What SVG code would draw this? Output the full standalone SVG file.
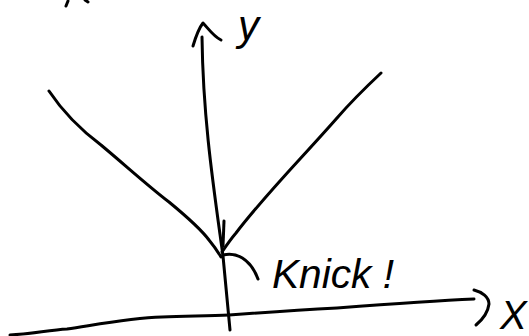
<svg xmlns="http://www.w3.org/2000/svg" width="529" height="336" viewBox="0 0 529 336">
<style>
.ink{fill:none;stroke:#000;stroke-width:3;stroke-linecap:round;stroke-linejoin:round}
.lbl{font-family:"Liberation Sans",Arial,sans-serif;font-style:italic;fill:#000}
</style>
<rect width="529" height="336" fill="#fff"/>
<g id="marks">
<path class="ink" d="M66,6 L68,1 M85,0 L88,2"/>
</g>
<g id="axes">
<path id="y-axis" class="ink" d="M202,37 C203,120 214,190 223,256 L230,330"/>
<path id="y-arrow" class="ink" d="M193,46 C196,36 199,28 203,23 C208,28 213,36 221,40"/>
<path id="x-axis" class="ink" d="M10,335 C30,334 50,330 67,329 C100,324 130,318 162,317 C190,316 210,316 229,315 C270,312 300,310 337,308 C390,304 430,301 474,299"/>
<path id="x-arrow" class="ink" d="M474,290 C482,292 489,297 489,304 C488,312 482,320 476,325"/>
</g>
<g id="curve">
<path id="left-branch" class="ink" d="M49,91 C65,115 85,133 101,145 C125,165 148,186 169,202 C186,216 200,228 209,240 C214,246 218,252 221,257"/>
<path id="right-branch" class="ink" d="M381,73 C365,88 350,103 337,118 C300,160 265,195 236,233 C230,240 226,246 222,252"/>
<path id="tick" class="ink" d="M224,221 L223,246"/>
</g>
<g id="knick">
<path id="knick-arrow" class="ink" d="M223,255 C236,252 250,258 258,279"/>
<text class="lbl" x="272" y="288" font-size="40" textLength="122" lengthAdjust="spacingAndGlyphs">Knick !</text>
</g>
<g id="labels">
<text class="lbl" x="238" y="40" font-size="42">y</text>
<text class="lbl" x="500" y="329" font-size="40" font-style="normal">X</text>
</g>
</svg>
